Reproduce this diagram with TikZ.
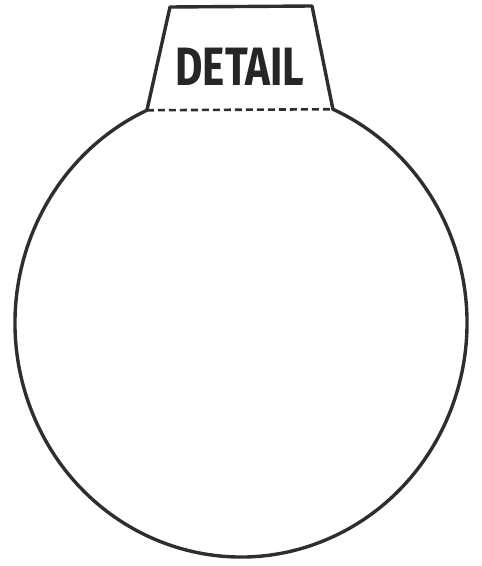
\documentclass[tikz,border=0pt]{standalone}
\usepackage{fontspec}
\setmainfont{Fira Sans}
\usetikzlibrary{calc}
\begin{document}
\begin{tikzpicture}[x=1pt,y=1pt,
  outline/.style={line width=3.4pt,draw=black!82,line join=round,line cap=round},
  seam/.style={line width=2.6pt,draw=black!82,dash pattern=on 7pt off 4pt},
  label/.style={font=\fontsize{54}{54}\selectfont\bfseries,text=black!85,xscale=0.78,inner sep=0pt}]
\useasboundingbox (0,0) rectangle (482,566);
\coordinate (c) at (241,243);
\coordinate (bl) at ($(c)+(114.6:226 and 234)$);
\coordinate (br) at ($(c)+(66:226 and 234)$);
\coordinate (tl) at (170,559);
\coordinate (tr) at (312,560);
\draw[outline] (bl) arc[start angle=114.6,end angle=426,x radius=226,y radius=234];
\draw[outline] (bl) -- (tl) -- (tr) -- (br);
\draw[seam] (bl) -- (br);
\node[label] (t) at (240,499) {DETAIL};
\end{tikzpicture}
\end{document}
